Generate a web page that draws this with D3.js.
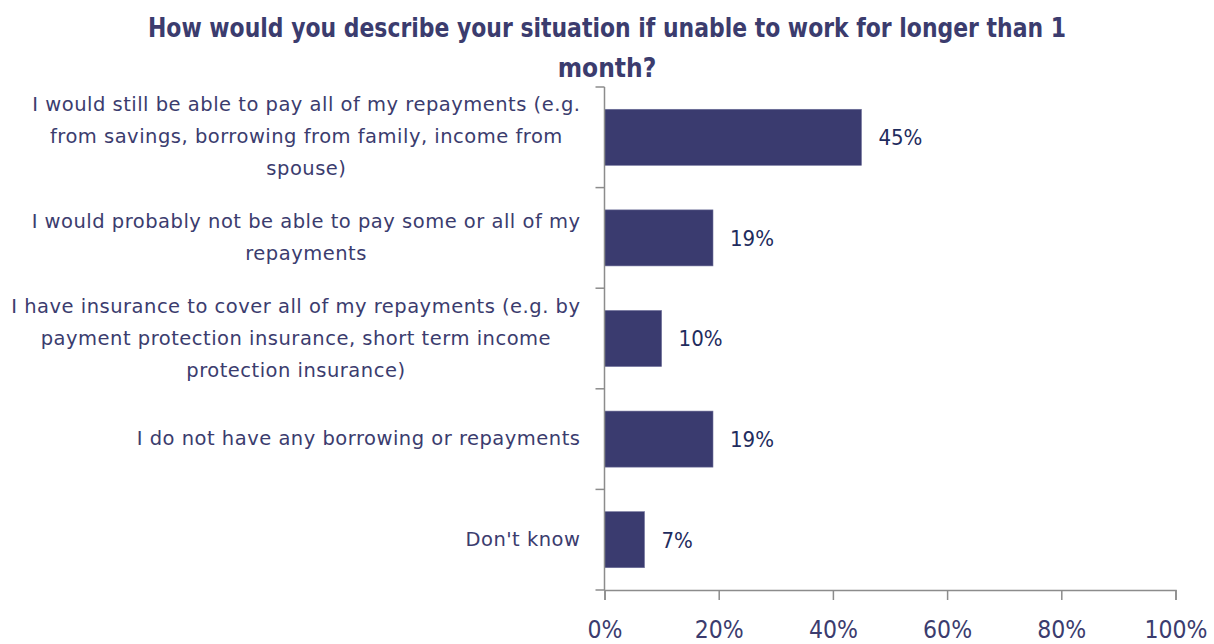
<!DOCTYPE html>
<html>
<head>
<meta charset="utf-8">
<script src="https://cdn.jsdelivr.net/npm/d3@7"></script>
<style>
  html, body { margin: 0; padding: 0; background: #fff; }
  svg { display: block; }
</style>
</head>
<body>
<svg id="chart" width="1214" height="644"></svg>
<script>
const titleLines = ["How would you describe your situation if unable to work for longer than 1", "month?"];
const categories = [
  "I would still be able to pay all of my repayments (e.g.|from savings, borrowing from family, income from|spouse)",
  "I would probably not be able to pay some or all of my|repayments",
  "I have insurance to cover all of my repayments (e.g. by|payment protection insurance, short term income|protection insurance)",
  "I do not have any borrowing or repayments",
  "Don't know"
];
const values = [0.45, 0.19, 0.10, 0.19, 0.07];
const valueLabels = ["45%", "19%", "10%", "19%", "7%"];
const xTicks = [0, 0.2, 0.4, 0.6, 0.8, 1.0];

const svg = d3.select("#chart");
const margin = { left: 604.5, right: 1175.5, top: 87, bottom: 590 };

const x = d3.scaleLinear().domain([0, 1]).range([margin.left, margin.right]);
const y = d3.scaleBand().domain(categories).range([margin.top, margin.bottom])
  .paddingInner(0.443).paddingOuter(0.2215);
const yEdge = d3.scaleLinear().domain([0, categories.length]).range([margin.top, margin.bottom]);

const axisColor = "#8c8c8c";
const textColor = "#3b3c6e";
const barColor = "#3a3b6f";
const valueColor = "#1f2c5e";

// Title
const titleSel = svg.append("g").selectAll("text").data(titleLines).join("text")
  .attr("x", 607)
  .attr("y", (d, i) => 37 + i * 40)
  .attr("text-anchor", "middle")
  .attr("font-family", "'DejaVu Sans Condensed', 'DejaVu Sans', sans-serif")
  .attr("font-stretch", "condensed")
  .attr("font-weight", "bold")
  .attr("font-size", 26)
  .attr("fill", textColor)
  .text(d => d);
// fit first line to the reference width
titleSel.filter((d, i) => i === 0)
  .attr("textLength", 918)
  .attr("lengthAdjust", "spacingAndGlyphs");

// Bars
svg.append("g").selectAll("rect").data(values).join("rect")
  .attr("x", x(0))
  .attr("y", (d, i) => y(categories[i]))
  .attr("width", d => x(d) - x(0))
  .attr("height", y.bandwidth())
  .attr("fill", barColor)
  .attr("stroke", "#6d6e98")
  .attr("stroke-width", 0.6);

// Value labels
svg.append("g").selectAll("text").data(values).join("text")
  .attr("x", d => x(d) + 17)
  .attr("y", (d, i) => y(categories[i]) + y.bandwidth() / 2)
  .attr("dy", "0.36em")
  .attr("font-family", "'DejaVu Sans Condensed', 'DejaVu Sans', sans-serif")
  .attr("font-stretch", "condensed")
  .attr("font-size", 22)
  .attr("fill", valueColor)
  .text((d, i) => valueLabels[i]);

// Y axis line and ticks at band edges
const yAxisG = svg.append("g");
yAxisG.append("line")
  .attr("x1", x(0)).attr("x2", x(0))
  .attr("y1", yEdge(0)).attr("y2", yEdge(categories.length))
  .attr("stroke", axisColor).attr("stroke-width", 1.5);
yAxisG.selectAll("line.tk").data(d3.range(categories.length + 1)).join("line")
  .attr("class", "tk")
  .attr("x1", x(0) - 9).attr("x2", x(0))
  .attr("y1", d => yEdge(d)).attr("y2", d => yEdge(d))
  .attr("stroke", axisColor).attr("stroke-width", 1.5);

// X axis
const xAxis = d3.axisBottom(x).tickValues(xTicks).tickFormat(d3.format(".0%")).tickSize(10).tickPadding(21);
const xg = svg.append("g").attr("transform", `translate(0,${margin.bottom})`).call(xAxis);
xg.select(".domain").attr("stroke", axisColor).attr("stroke-width", 1.5);
xg.selectAll(".tick line").attr("stroke", axisColor).attr("stroke-width", 1.5);
xg.selectAll(".tick text")
  .attr("font-family", "'DejaVu Sans Condensed', 'DejaVu Sans', sans-serif")
  .attr("font-stretch", "condensed")
  .attr("font-size", 24.5)
  .attr("fill", textColor);

// Category labels (centered multi-line blocks, right-aligned to axis)
const lineH = 32;
const labelRight = x(0) - 24;
categories.forEach((cat, i) => {
  const lines = cat.split("|");
  const cy = y(cat) + y.bandwidth() / 2 - 1;
  const g = svg.append("g");
  const texts = g.selectAll("text").data(lines).join("text")
    .attr("y", (d, j) => cy + (j - (lines.length - 1) / 2) * lineH)
    .attr("dy", "0.36em")
    .attr("text-anchor", "middle")
    .attr("font-family", "'DejaVu Sans', sans-serif")
    .attr("font-size", 19.5)
    .attr("letter-spacing", 0.5)
    .attr("fill", textColor)
    .text(d => d);
  let maxW = 0;
  texts.each(function () { maxW = Math.max(maxW, this.getComputedTextLength()); });
  texts.attr("x", labelRight - maxW / 2);
});
</script>
</body>
</html>
